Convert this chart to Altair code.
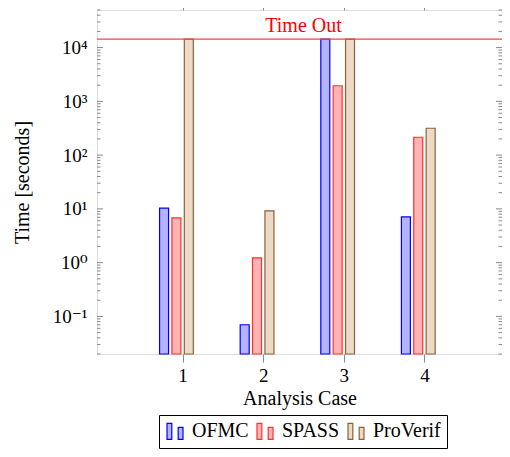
import altair as alt
import pandas as pd

cases = [1, 2, 3, 4]
tools = ["OFMC", "SPASS", "ProVerif"]
ofmc = [10.3, 0.07, 14400, 7.1]
spass = [6.8, 1.23, 1950, 215]
proverif = [14400, 9.2, 14400, 316]
timeout = 14400
major_ticks = [0.1, 1, 10, 100, 1000, 10000]
minor_ticks = [m * 10.0 ** e for e in range(-2, 5) for m in range(2, 10)
               if 0.02 <= m * 10.0 ** e <= 50000]

rows = []
for t, vals in zip(tools, [ofmc, spass, proverif]):
    for c, v in zip(cases, vals):
        rows.append({"case": c, "tool": t, "value": v})
df = pd.DataFrame(rows)

FONT = "'Liberation Serif', 'Times New Roman', 'DejaVu Serif', serif"
W, H = 405, 344
YMIN, YMAX = 0.02, 50000
ydom = [YMIN, YMAX]

yaxis = alt.Axis(values=major_ticks, ticks=False, domain=False, grid=False,
                 labelExpr="'10' + ['⁻¹','⁰','¹','²','³','⁴'][round(log(datum.value)/LN10)+1]",
                 labelFontSize=19, labelPadding=10, title="Time [seconds]",
                 titleFontSize=20, titleFontWeight="normal", titlePadding=20,
                 labelFont=FONT, titleFont=FONT, labelColor="black", titleColor="black")
yscale = alt.Scale(type="log", domain=ydom, nice=False)
xscale = alt.Scale(domain=[0, 4.9], nice=False, zero=False)

bars = alt.Chart(df).transform_calculate(
    xpos="datum.case + (datum.tool == 'OFMC' ? -0.23 : datum.tool == 'SPASS' ? -0.077 : 0.077)"
).mark_bar(size=9, strokeWidth=1.2).encode(
    x=alt.X("xpos:Q", scale=xscale,
            axis=alt.Axis(values=cases, orient="bottom", grid=False, domain=False,
                          tickColor="#888888", tickSize=8, labelFontSize=19,
                          labelPadding=4, labelFont=FONT, titleFont=FONT,
                          title="Analysis Case", titleFontSize=20,
                          titleFontWeight="normal", titlePadding=3,
                          labelColor="black", titleColor="black")),
    y=alt.Y("value:Q", scale=yscale, axis=yaxis),
    y2=alt.datum(YMIN),
    fill=alt.Fill("tool:N", scale=alt.Scale(domain=tools, range=["#b3b3ff", "#ffb3b3", "#ecd9c6"]),
                  legend=alt.Legend(title=None, orient="none", legendX=62, legendY=405,
                                    direction="horizontal", strokeColor="black",
                                    fillColor="white", padding=6,
                                    symbolType="M-1,-1H-0.4V1H-1Z M0.4,-0.5H1V1H0.4Z",
                                    symbolSize=256, symbolStrokeWidth=1.2,
                                    labelFontSize=20, labelFont=FONT, labelColor="black",
                                    columnPadding=5, labelOffset=7)),
    stroke=alt.Stroke("tool:N", scale=alt.Scale(domain=tools, range=["#0000ff", "#ff3030", "#8c6239"]),
                      legend=alt.Legend(title=None, orient="none", legendX=62, legendY=405,
                                        direction="horizontal")),
)

tdf = pd.DataFrame({"t": [timeout], "label": ["Time Out"], "x": [2.5]})
trule = alt.Chart(tdf).mark_rule(color="#ff4040", strokeWidth=1.3).encode(
    y=alt.Y("t:Q", scale=yscale, axis=yaxis)
)
ttext = alt.Chart(tdf).mark_text(color="#ff0000", fontSize=20, font=FONT,
                                 baseline="bottom", dy=-3).encode(
    x=alt.X("x:Q", scale=xscale,
            axis=alt.Axis(values=cases, orient="top", labels=False, grid=False,
                          domain=False, tickColor="#888888", tickSize=8, title=None)),
    y=alt.Y("t:Q", scale=yscale, axis=yaxis),
    text="label:N",
)

mj = pd.DataFrame({"v": major_ticks})
mn = pd.DataFrame({"v": minor_ticks})
tick_layers = []
for d, L in [(mj, 6), (mn, 3.5)]:
    tick_layers.append(alt.Chart(d).mark_rule(color="#888888", strokeWidth=1).encode(
        x=alt.value(0), x2=alt.value(L), y=alt.Y("v:Q", scale=yscale, axis=yaxis)))
    tick_layers.append(alt.Chart(d).mark_rule(color="#888888", strokeWidth=1).encode(
        x=alt.value(W - L), x2=alt.value(W), y=alt.Y("v:Q", scale=yscale, axis=yaxis)))

chart = alt.layer(bars, *tick_layers, trule, ttext).resolve_axis(x="independent").properties(
    width=W, height=H,
    autosize=alt.AutoSizeParams(type="none"),
    padding={"left": 89, "top": 2, "right": 0, "bottom": 95},
).configure_view(stroke="black", strokeWidth=1.2).configure(background="white")

chart.save("out.html", embed_options={"renderer": "svg", "actions": False})
